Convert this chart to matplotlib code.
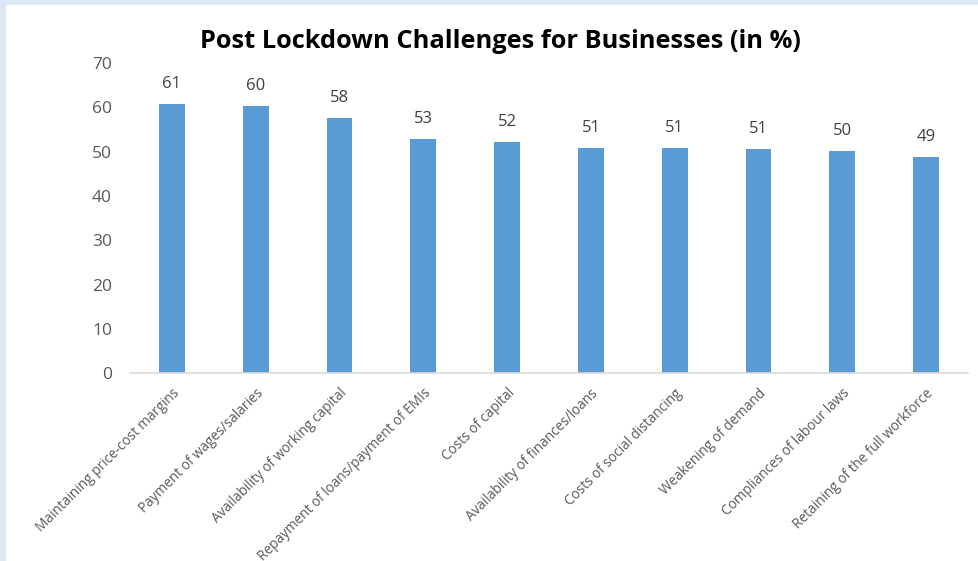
import matplotlib.pyplot as plt
from matplotlib.patches import Rectangle

challenges = [
    "Maintaining price-cost margins",
    "Payment of wages/salaries",
    "Availability of working capital",
    "Repayment of loans/payment of EMIs",
    "Costs of capital",
    "Availability of finances/loans",
    "Costs of social distancing",
    "Weakening of demand",
    "Compliances of labour laws",
    "Retaining of the full workforce",
]
share = [60.8, 60.3, 57.6, 52.9, 52.2, 50.9, 50.9, 50.6, 50.2, 48.9]
yticks = [0, 10, 20, 30, 40, 50, 60, 70]

plt.rcParams['font.family'] = ['Open Sans', 'DejaVu Sans']

fig = plt.figure(figsize=(9.79, 5.61), dpi=100)
fig.patch.set_facecolor('#dde8f4')
fig.patches.append(Rectangle((6 / 979, 0), 1, 1 - 5 / 561, transform=fig.transFigure,
                             facecolor='white', edgecolor='none', zorder=-10))

ax = fig.add_axes([130 / 979, 1 - 373.3 / 561, (968 - 130) / 979, (373.3 - 63) / 561])
ax.set_facecolor('none')
x = range(len(challenges))
bars = ax.bar(x, share, width=0.31, color='#5b9bd5')

# value labels above each bar
for b, v in zip(bars, share):
    ax.text(b.get_x() + b.get_width() / 2, v + 2.6, f"{round(v)}",
            ha='center', va='bottom', fontsize=12, color='#404040')

ax.set_xlim(-0.5, len(challenges) - 0.5)
ax.set_ylim(0, 70)
ax.set_yticks(yticks)
ax.set_yticklabels([str(t) for t in yticks], fontsize=12.5, color='#595959')
ax.set_xticks(list(x))
ax.set_xticklabels(challenges, rotation=45, ha='right', rotation_mode='anchor',
                   fontsize=9.8, color='#595959')
ax.tick_params(axis='both', length=0)
ax.tick_params(axis='y', pad=13)
ax.tick_params(axis='x', pad=9)
for s in ['top', 'right', 'left']:
    ax.spines[s].set_visible(False)
ax.spines['bottom'].set_color('#d9d9d9')
ax.spines['bottom'].set_linewidth(1.2)

fig.text(500 / 979, 1 - 41 / 561, "Post Lockdown Challenges for Businesses (in %)",
         ha='center', va='center', fontsize=18.3, fontweight='bold', color='black')

fig.savefig('out.png', dpi=100, facecolor=fig.get_facecolor())
